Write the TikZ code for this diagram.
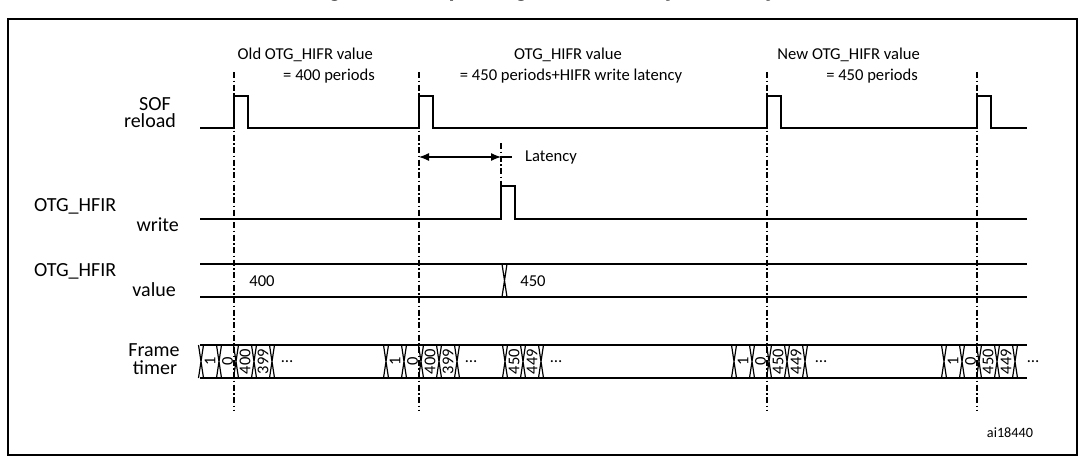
\documentclass[tikz,border=0pt]{standalone}
\usepackage{fontspec}
\setmainfont{Carlito}
\newfontfamily\titlefont{Liberation Sans}
\usetikzlibrary{arrows.meta}

\tikzset{
  sig/.style={line width=2pt, line join=miter},
  cross/.style={line width=1.2pt},
  cutline/.style={line width=1.2pt, dash pattern=on 6pt off 2.5pt on 1.5pt off 2.5pt},
  toptext/.style={font=\fontsize{16.6}{20}\selectfont, inner sep=0pt},
  sigtext/.style={font=\fontsize{20}{24}\selectfont, inner sep=0pt},
  celltext/.style={font=\fontsize{16.5}{18}\selectfont, rotate=90, inner sep=0pt},
}

\begin{document}
\begin{tikzpicture}[x=1pt, y=-1pt]
  \useasboundingbox (0,0) rectangle (1084,463);
  \begin{scope}
    \clip (0,0) rectangle (1084,463);
    \node[font=\titlefont\bfseries\fontsize{22}{24}\selectfont, inner sep=0pt, anchor=base] (title) at (543,-4) {Figure 398. Updating OTG\_HFIR dynamically};
  \end{scope}
  \draw[line width=2.4pt] (8,19) rectangle (1077,455);

  % markers
  \coordinate (m1) at (234,72);
  \coordinate (m2) at (419,72);
  \coordinate (m3) at (767,72);
  \coordinate (m4) at (977,72);
  \foreach \m in {m1,m2,m3,m4}
    \draw[cutline] (\m) -- ++(0,338);

  % texts over the markers
  \node[toptext, anchor=base east] (old1) at (373,59) {Old OTG\_HIFR value};
  \node[toptext, anchor=base east] (old2) at (375,80) {= 400 periods};
  \node[toptext, anchor=base] (mid1) at (568,59) {OTG\_HIFR value};
  \node[toptext, anchor=base] (mid2) at (571,80) {= 450 periods+HIFR write latency};
  \node[toptext, anchor=base east] (new1) at (920,59) {New OTG\_HIFR value};
  \node[toptext, anchor=base east] (new2) at (918,80) {= 450 periods};

  % SOF reload
  \node[sigtext, anchor=base] (sof) at (155,110) {SOF};
  \node[sigtext, anchor=base] (reload) at (150,127) {reload};
  \draw[sig] (200,128) -- (234,128) -- (234,96) -- (248,96) -- (248,128)
    -- (419,128) -- (419,96) -- (433,96) -- (433,128)
    -- (767,128) -- (767,96) -- (781,96) -- (781,128)
    -- (977,128) -- (977,96) -- (991,96) -- (991,128) -- (1027,128);

  % latency
  \coordinate (lat1) at (419,157);
  \coordinate (lat2) at (501,157);
  \draw[cutline] (501,143) -- (501,186);
  \draw[line width=1.2pt, {Latex[length=10pt,width=8pt]}-{Latex[length=10pt,width=8pt]}] (lat1) -- (lat2);
  \draw[line width=1.2pt] (lat2) -- ++(11,0);
  \node[toptext, anchor=west] (lat) at (525,158) {Latency};

  % OTG_HFIR write
  \node[sigtext, anchor=base west] (wr1) at (34,211) {OTG\_HFIR};
  \node[sigtext, anchor=base east] (wr2) at (179,231) {write};
  \draw[sig] (200,219) -- (501,219) -- (501,186) -- (515,186) -- (515,219) -- (1027,219);

  % OTG_HFIR value
  \node[sigtext, anchor=base west] (val1) at (34,276) {OTG\_HFIR};
  \node[sigtext, anchor=base east] (val2) at (176,296) {value};
  \draw[sig] (200,264) -- (1027,264);
  \draw[sig] (200,297) -- (1027,297);
  \draw[cross] (502,264) -- (507,297) (507,264) -- (502,297);
  \node[toptext] (v400) at (262,281) {400};
  \node[toptext] (v450) at (533,281) {450};

  % Frame timer
  \node[sigtext, anchor=base] (ft1) at (154,356) {Frame};
  \node[sigtext, anchor=base] (ft2) at (155,374) {timer};
  \draw[sig] (200,345) -- (1027,345);
  \draw[sig] (200,378) -- (1027,378);
  \foreach \x in {201,219,236,254,272, 386,404,421,439,457, 505,523,541,
                  734,752,769,787,805, 944,962,979,997,1015}
    \draw[cross] (\x-2.5,345) -- (\x+2.5,378) (\x+2.5,345) -- (\x-2.5,378);
  \foreach \x/\t [count=\i] in {210/1, 227.5/0, 245/400, 263/399,
                                395/1, 412.5/0, 430/400, 448/399,
                                514/450, 532/449,
                                743/1, 760.5/0, 778/450, 796/449,
                                953/1, 970.5/0, 988/450, 1006/449}
    \node[celltext] (cell\i) at (\x,361.5) {\t};
  \foreach \x [count=\i] in {287,471,556,821,1033}
    \node[toptext] (dots\i) at (\x,362) {\dots};

  \node[font=\fontsize{14.2}{16}\selectfont, inner sep=0pt] (id) at (1010,433) {ai18440};
\end{tikzpicture}
\end{document}
